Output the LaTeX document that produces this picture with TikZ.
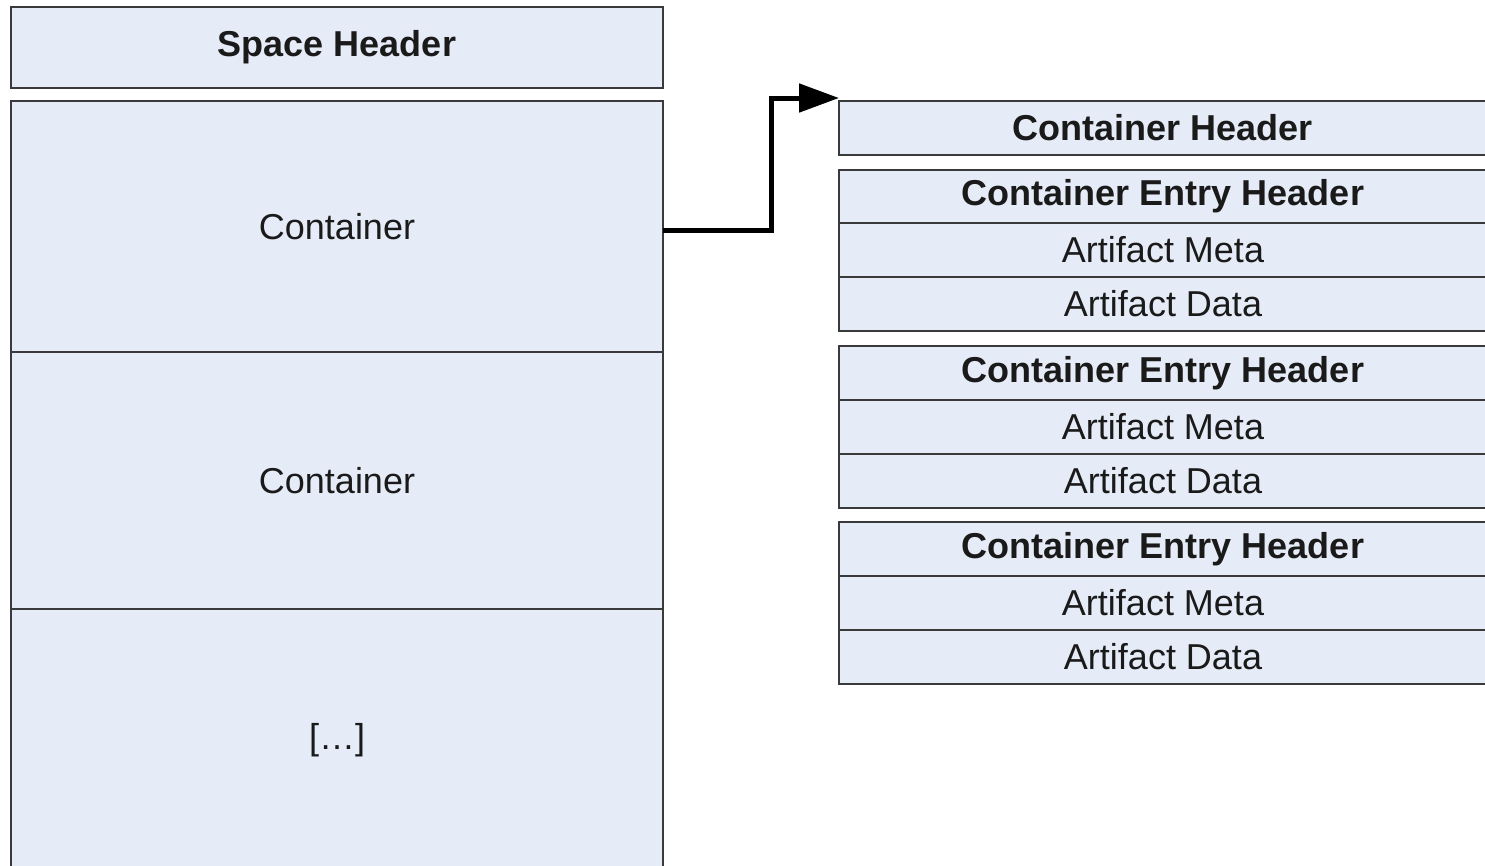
\documentclass[tikz,border=0pt]{standalone}
\usepackage{fontspec}
\setmainfont{Liberation Sans}
\usetikzlibrary{arrows.meta}
\definecolor{boxfill}{HTML}{E6ECF7}
\definecolor{boxline}{HTML}{3A3A3A}
\definecolor{txt}{HTML}{1A1A1A}
\begin{document}
\begin{tikzpicture}[x=1pt,y=-1pt,
  box/.style={draw=boxline, fill=boxfill, line width=2pt, rectangle, inner sep=0pt, outer sep=0pt,
    text=txt, font=\fontsize{36}{40}\selectfont},
  boldbox/.style={box, font=\fontsize{36}{40}\selectfont\bfseries},
  lcol/.style={minimum width=652pt},
  rcol/.style={minimum width=648pt, minimum height=54pt},
  link/.style={line width=5pt, -{Triangle[length=40pt,width=28pt]}}]
\useasboundingbox (0,0) rectangle (1485,865);
\clip (0,0) rectangle (1485,865);
% left column
\node[boldbox, lcol, minimum height=81pt] (sh) at (337,47.5) {Space Header};
\node[box, lcol, minimum height=251pt] (c1) at (337,226.5) {Container};
\node[box, lcol, minimum height=257pt] (c2) at (337,480.5) {Container};
\node[box, lcol, minimum height=262pt] (c3) at (337,740) {[\dots]};
% right column
\node[boldbox, rcol] (ch) at (1163,128) {Container Header};
\node[boldbox, rcol] (e1) at (1163,196.5) {Container Entry Header};
\node[box, rcol] (m1) at (1163,250) {Artifact Meta};
\node[box, rcol] (d1) at (1163,304) {Artifact Data};
\node[boldbox, rcol] (e2) at (1163,373) {Container Entry Header};
\node[box, rcol] (m2) at (1163,427) {Artifact Meta};
\node[box, rcol] (d2) at (1163,481) {Artifact Data};
\node[boldbox, rcol] (e3) at (1163,549) {Container Entry Header};
\node[box, rcol] (m3) at (1163,603) {Artifact Meta};
\node[box, rcol] (d3) at (1163,657) {Artifact Data};
% connector
\coordinate (bend) at (771,230);
\draw[link] ([yshift=-3.5pt]c1.east) -- (bend) |- ([yshift=3pt]ch.north west);
\end{tikzpicture}
\end{document}
